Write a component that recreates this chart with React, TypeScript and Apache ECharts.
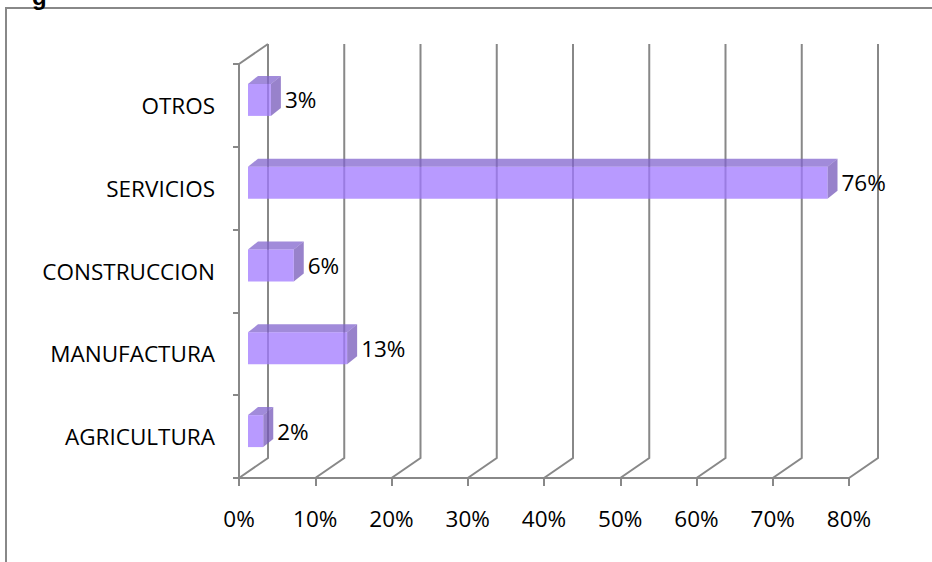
import React, { useEffect, useRef } from "react";
import * as echarts from "echarts";

const categories = ["AGRICULTURA", "MANUFACTURA", "CONSTRUCCION", "SERVICIOS", "OTROS"];
const shares = [2, 13, 6, 76, 3];
const tickValues = [0, 10, 20, 30, 40, 50, 60, 70, 80];

const FONT = "'Open Sans', sans-serif";
const FS = 22.5;
const GRAY = "#888888";
const DX = 29;
const DY = -20;
const BAR_OFF_X = 9;
const BAR_OFF_Y = -5.5;
const BAR_H = 32;
const BAR_DX = 10;
const BAR_DY = -8;
const FRONT = "rgba(160,120,255,0.75)";
const TOP = "rgba(130,100,205,0.75)";
const SIDE = "rgba(118,88,185,0.75)";

export default function App() {
  const ref = useRef<HTMLDivElement>(null);
  useEffect(() => {
    document.body.style.margin = "0";
    const chart = echarts.init(ref.current!, null, { renderer: "svg" });
    chart.setOption({
      animation: false,
      backgroundColor: "#ffffff",
      grid: { left: 239, top: 64, width: 610, height: 414 },
      xAxis: {
        type: "value",
        min: 0,
        max: 80,
        interval: 10,
        axisLine: { show: true, lineStyle: { color: GRAY, width: 2 } },
        axisTick: { show: true, length: 8, lineStyle: { color: GRAY, width: 2 } },
        splitLine: { show: false },
        axisLabel: {
          formatter: "{value}%",
          color: "#000",
          fontFamily: FONT,
          fontSize: FS,
          margin: 29,
        },
      },
      yAxis: {
        type: "category",
        data: categories,
        axisLine: { show: true, lineStyle: { color: GRAY, width: 2 } },
        axisTick: { show: true, length: 6, lineStyle: { color: GRAY, width: 2 } },
        splitLine: { show: false },
        axisLabel: { color: "#000", fontFamily: FONT, fontSize: FS, margin: 24 },
      },
      graphic: [
        {
          type: "rect",
          shape: { x: 6, y: 8, width: 960, height: 620 },
          style: { fill: "none", stroke: GRAY, lineWidth: 2 },
          silent: true,
        },
        {
          type: "text",
          x: 32,
          y: 8,
          style: {
            text: "g",
            fontFamily: "'Liberation Sans', sans-serif",
            fontWeight: "bold",
            fontSize: 24,
            fill: "#000",
            align: "left",
            verticalAlign: "bottom",
          },
          silent: true,
        },
      ],
      series: [
        {
          type: "custom",
          z: 1,
          silent: true,
          data: tickValues.map((v) => [v, 0]),
          encode: { x: 0, y: 1 },
          renderItem: (params: any, api: any) => {
            const cs = params.coordSys;
            const p = api.coord([api.value(0), 0]);
            const x = p[0];
            const bottom = cs.y + cs.height;
            const top = cs.y;
            const children: any[] = [
              {
                type: "polyline",
                shape: {
                  points: [
                    [x, bottom],
                    [x + DX, bottom + DY],
                    [x + DX, top + DY],
                  ],
                },
                style: { stroke: GRAY, lineWidth: 2, fill: "none" },
              },
            ];
            if (params.dataIndex === 0) {
              children.push({
                type: "line",
                shape: { x1: x, y1: top, x2: x + DX, y2: top + DY },
                style: { stroke: GRAY, lineWidth: 2 },
              });
            }
            return { type: "group", children };
          },
        },
        {
          type: "custom",
          z: 2,
          data: shares.map((v, i) => [v, i]),
          encode: { x: 0, y: 1 },
          renderItem: (params: any, api: any) => {
            const v = api.value(0);
            const ci = api.value(1);
            const base = api.coord([0, ci]);
            const end = api.coord([v, ci]);
            const x0 = base[0] + BAR_OFF_X;
            const x1 = end[0] + BAR_OFF_X;
            const yc = base[1] + BAR_OFF_Y;
            const yt = yc - BAR_H / 2;
            const yb = yc + BAR_H / 2;
            return {
              type: "group",
              children: [
                {
                  type: "polygon",
                  shape: {
                    points: [
                      [x0, yt],
                      [x1, yt],
                      [x1 + BAR_DX, yt + BAR_DY],
                      [x0 + BAR_DX, yt + BAR_DY],
                    ],
                  },
                  style: { fill: TOP },
                },
                {
                  type: "polygon",
                  shape: {
                    points: [
                      [x1, yt],
                      [x1 + BAR_DX, yt + BAR_DY],
                      [x1 + BAR_DX, yb + BAR_DY],
                      [x1, yb],
                    ],
                  },
                  style: { fill: SIDE },
                },
                {
                  type: "rect",
                  shape: { x: x0, y: yt, width: x1 - x0, height: BAR_H },
                  style: { fill: FRONT },
                },
                {
                  type: "text",
                  x: x1 + BAR_DX + 4,
                  y: yc,
                  style: {
                    text: v + "%",
                    fontFamily: FONT,
                    fontSize: FS,
                    fill: "#000",
                    align: "left",
                    verticalAlign: "middle",
                  },
                },
              ],
            };
          },
        },
      ],
    });
    return () => chart.dispose();
  }, []);
  return <div ref={ref} style={{ width: 932, height: 562 }} />;
}
